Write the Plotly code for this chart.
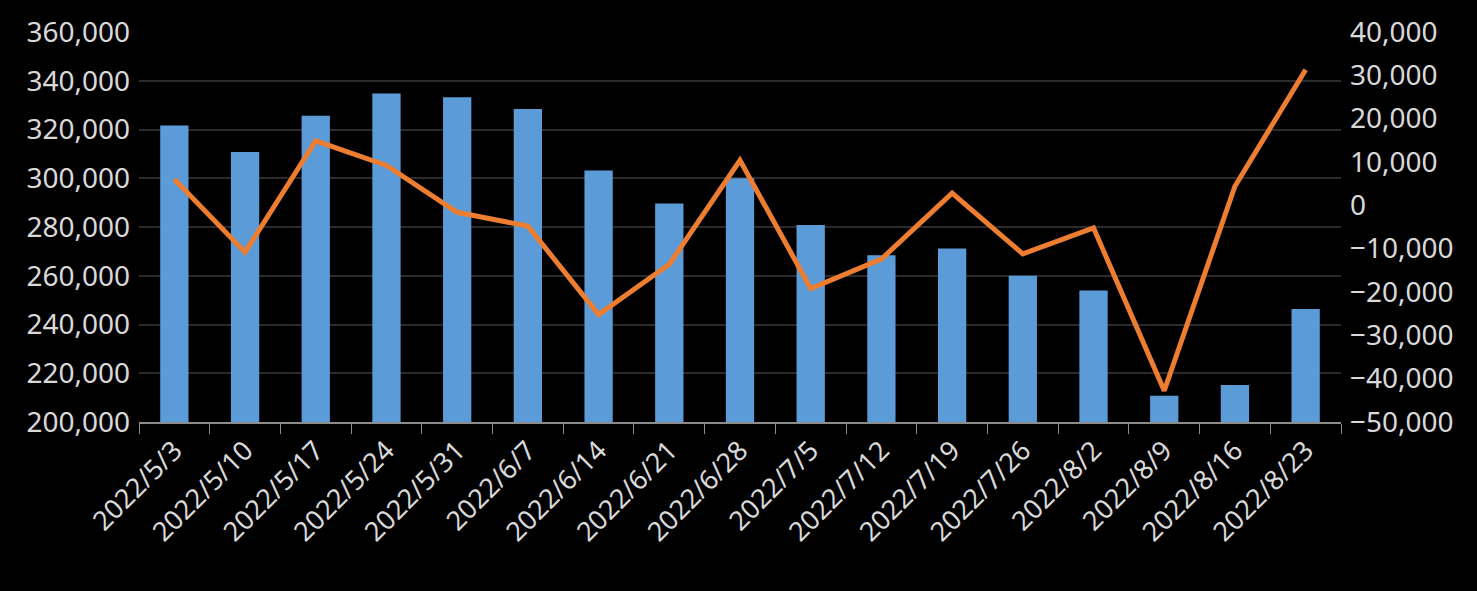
import plotly.graph_objects as go

# weekly data
dates = ["2022/5/3", "2022/5/10", "2022/5/17", "2022/5/24", "2022/5/31", "2022/6/7",
         "2022/6/14", "2022/6/21", "2022/6/28", "2022/7/5", "2022/7/12", "2022/7/19",
         "2022/7/26", "2022/8/2", "2022/8/9", "2022/8/16", "2022/8/23"]
totals = [321600, 310800, 325600, 334800, 333200, 328400, 303200, 289600, 300000,
          280800, 268400, 271200, 260000, 254000, 210800, 215200, 246400]
changes = [6000, -10800, 14900, 9200, -1600, -4800, -25200, -13600, 10400,
           -19200, -12400, 2800, -11200, -5200, -42800, 4400, 31300]

txt = "#d9d9d9"

fig = go.Figure()
fig.add_trace(go.Bar(x=dates, y=totals, marker=dict(color="#5a9bd8", line=dict(width=0)),
                     yaxis="y"))
fig.add_trace(go.Scatter(x=dates, y=changes, mode="lines", yaxis="y2",
                         line=dict(color="#ed7d31", width=5)))

fig.update_layout(
    width=1477, height=591,
    paper_bgcolor="black", plot_bgcolor="black",
    margin=dict(l=139, r=136, t=22, b=169),
    showlegend=False,
    bargap=0.6,
    font=dict(family="Noto Sans", size=28, color=txt),
    xaxis=dict(type="category", tickangle=-45, showgrid=False,
               showline=True, linecolor="#8c8c8c", linewidth=2,
               ticks="outside", tickson="boundaries", ticklen=10, tickcolor="#8c8c8c",
               tickfont=dict(size=27, color=txt)),
    yaxis=dict(range=[200000, 360000], dtick=20000, tickformat=",d",
               showgrid=True, gridcolor="#2b2b2b", gridwidth=2, zeroline=False,
               showline=False, ticks="", ticklabelstandoff=8),
    yaxis2=dict(range=[-50000, 40000], dtick=10000, tickformat=",d",
                overlaying="y", side="right", showgrid=False, zeroline=False,
                showline=False, ticks="", ticklabelstandoff=8),
)

# page has no white border
fig.write_html("out.html", config={"displayModeBar": False},
               post_script="document.body.style.margin='0';document.body.style.background='black';")
